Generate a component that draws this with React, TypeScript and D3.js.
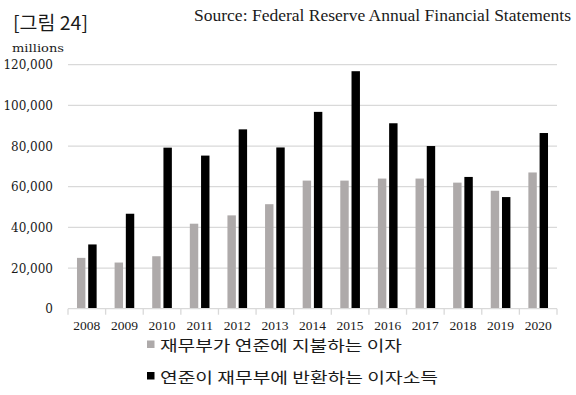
import { useEffect, useRef } from "react";
import * as d3 from "d3";

const years = ["2008", "2009", "2010", "2011", "2012", "2013", "2014", "2015", "2016", "2017", "2018", "2019", "2020"];
const paidByTreasury = [25000, 22700, 25800, 41800, 45900, 51400, 63000, 63000, 64000, 64000, 62000, 58000, 67000];
const remittedByFed = [31600, 46700, 79200, 75300, 88200, 79300, 96800, 116800, 91200, 80000, 64800, 54900, 86400];
const yTicks = [0, 20000, 40000, 60000, 80000, 100000, 120000];
const seriesNames = ["재무부가 연준에 지불하는 이자", "연준이 재무부에 반환하는 이자소득"];
const seriesColors = ["#aeaaaa", "#000000"];

export default function App() {
    const ref = useRef<SVGSVGElement>(null);

    useEffect(() => {
        const svg = d3.select(ref.current);
        svg.selectAll("*").remove();

        const serif = "'DejaVu Serif', serif";
        const times = "'Liberation Serif', serif";
        const kr = "'Noto Sans CJK KR', sans-serif";

        // scales
        const x0 = d3.scaleBand().domain(years).range([68, 557]).padding(0);
        const x1 = d3.scaleBand().domain(["0", "1"]).range([0, x0.bandwidth()])
            .paddingInner(0.25).paddingOuter(0.8);
        const y = d3.scaleLinear().domain([0, 120000]).range([308.7, 64.7]);

        // header texts
        svg.append("text")
            .attr("x", 13).attr("y", 30)
            .attr("textLength", 75).attr("lengthAdjust", "spacingAndGlyphs")
            .style("font-family", kr).style("font-size", "19px").style("fill", "#1a1a1a")
            .text("[그림 24]");

        svg.append("text")
            .attr("x", 194).attr("y", 21)
            .attr("textLength", 377).attr("lengthAdjust", "spacingAndGlyphs")
            .style("font-family", times).style("font-size", "16px").style("fill", "#1a1a1a")
            .text("Source: Federal Reserve Annual Financial Statements");

        svg.append("text")
            .attr("x", 12).attr("y", 52)
            .attr("textLength", 52).attr("lengthAdjust", "spacingAndGlyphs")
            .style("font-family", serif).style("font-size", "11px").style("fill", "#1a1a1a")
            .text("millions");

        // gridlines
        svg.append("g").selectAll("line")
            .data(yTicks.slice(1))
            .enter().append("line")
            .attr("x1", 68).attr("x2", 557)
            .attr("y1", d => y(d)).attr("y2", d => y(d))
            .attr("stroke", "#d9d9d9").attr("stroke-width", 1.3);

        // y tick labels
        svg.append("g").selectAll("text")
            .data(yTicks)
            .enter().append("text")
            .attr("x", 53).attr("y", d => y(d) + 4.5)
            .attr("text-anchor", "end")
            .style("font-family", serif).style("font-size", "12px").style("fill", "#1a1a1a")
            .text(d => d3.format(",")(d));

        // bars
        const groups = svg.append("g").selectAll("g")
            .data(years)
            .enter().append("g")
            .attr("transform", d => `translate(${x0(d)},0)`);

        groups.selectAll("rect")
            .data((d, i) => [paidByTreasury[i], remittedByFed[i]])
            .enter().append("rect")
            .attr("x", (d, j) => x1(String(j)) as number)
            .attr("width", x1.bandwidth())
            .attr("y", d => y(d))
            .attr("height", d => y(0) - y(d))
            .attr("fill", (d, j) => seriesColors[j]);

        // x axis line + ticks
        svg.append("line")
            .attr("x1", 68).attr("x2", 557)
            .attr("y1", y(0)).attr("y2", y(0))
            .attr("stroke", "#d9d9d9").attr("stroke-width", 1.3);

        const boundaries = years.map(d => x0(d) as number).concat([557]);
        svg.append("g").selectAll("line")
            .data(boundaries)
            .enter().append("line")
            .attr("x1", d => d).attr("x2", d => d)
            .attr("y1", y(0)).attr("y2", y(0) + 6)
            .attr("stroke", "#d9d9d9").attr("stroke-width", 1.3);

        svg.append("g").selectAll("text")
            .data(years)
            .enter().append("text")
            .attr("x", d => (x0(d) as number) + x0.bandwidth() / 2)
            .attr("y", 329.8)
            .attr("text-anchor", "middle")
            .style("font-family", times).style("font-size", "13.5px").style("fill", "#1a1a1a")
            .text(d => d);

        // legend
        const legendRows = [
            { y: 340.5, base: 351, w: 242 },
            { y: 372, base: 383, w: 278 }
        ];
        seriesNames.forEach((name, i) => {
            const row = legendRows[i];
            svg.append("rect")
                .attr("x", 147).attr("y", row.y)
                .attr("width", 7.5).attr("height", 7.5)
                .attr("fill", seriesColors[i]);
            svg.append("text")
                .attr("x", 160).attr("y", row.base)
                .attr("textLength", row.w).attr("lengthAdjust", "spacingAndGlyphs")
                .style("font-family", kr).style("font-size", "15px").style("fill", "#1a1a1a")
                .text(name);
        });
    }, []);

    return (
        <svg
            ref={ref}
            width={576}
            height={395}
            style={{ position: "absolute", left: 0, top: 0, background: "#fff" }}
        />
    );
}
